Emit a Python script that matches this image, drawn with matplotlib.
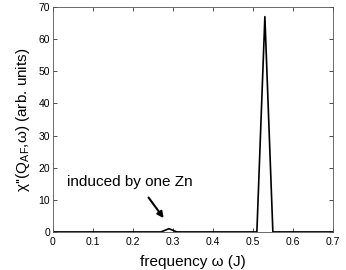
import matplotlib
matplotlib.use("Agg")
import matplotlib.pyplot as plt

freq = [0.0, 0.27, 0.29, 0.31, 0.51, 0.53, 0.55, 0.70]
chi = [0.0, 0.0, 1.0, 0.0, 0.0, 67.0, 0.0, 0.0]
xticks = [0, 0.1, 0.2, 0.3, 0.4, 0.5, 0.6, 0.7]
yticks = [0, 10, 20, 30, 40, 50, 60, 70]

plt.rcParams['font.family'] = ['Liberation Sans', 'DejaVu Sans']
plt.rcParams['mathtext.fontset'] = 'custom'
plt.rcParams['mathtext.rm'] = 'Liberation Sans'
plt.rcParams['mathtext.it'] = 'Liberation Sans:italic'

fig = plt.figure(figsize=(3.46, 2.70), dpi=100)
ax = fig.add_axes([0.153, 0.141, 0.809, 0.833])
ax.plot(freq, chi, color='black', lw=1.2)
ax.set_xlim(0, 0.7)
ax.set_ylim(0, 70)
ax.set_xticks(xticks)
ax.set_xticklabels([f"{t:g}" for t in xticks])
ax.set_yticks(yticks)
ax.tick_params(direction='in', top=True, right=True, labelsize=7.5, length=3, width=0.6, colors='#333333', labelcolor='black')
ax.tick_params(axis='x', pad=3.5)
ax.tick_params(axis='y', pad=2)
for s in ax.spines.values():
    s.set_linewidth(0.6)
    s.set_color('#555555')
ax.set_xlabel("frequency ω (J)", fontsize=11, labelpad=6)
ax.set_ylabel("χ''(Q$_{\\mathrm{AF}}$,ω) (arb. units)", fontsize=11, labelpad=5)
ax.annotate("", xy=(0.281, 3.6), xytext=(0.235, 11.4),
            arrowprops=dict(arrowstyle='-|>', color='black', lw=1.5, mutation_scale=9))
ax.text(0.035, 15.4, "induced by one Zn", fontsize=11, va='center', ha='left')
fig.savefig("out.png", dpi=100)
